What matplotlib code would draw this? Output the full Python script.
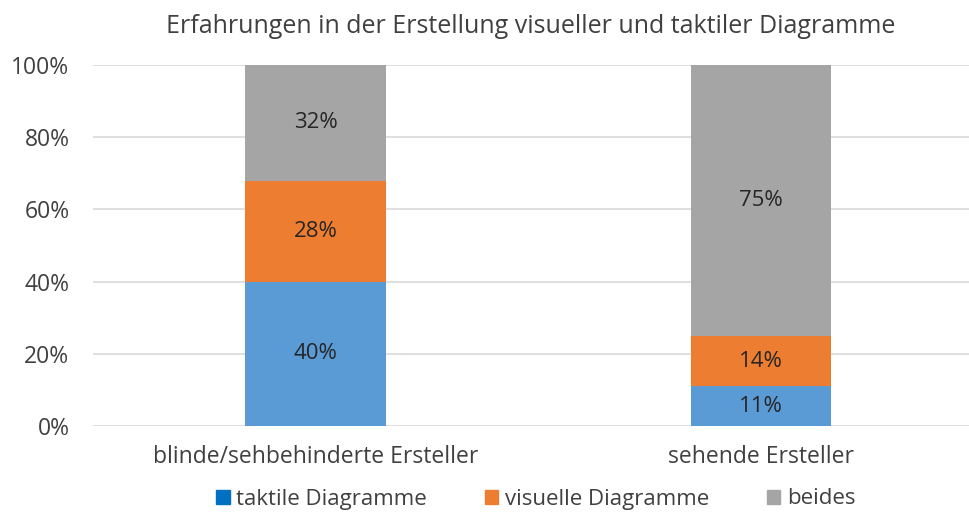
import matplotlib
matplotlib.use("Agg")
import matplotlib.pyplot as plt
from matplotlib.patches import Patch

categories = ["blinde/sehbehinderte Ersteller", "sehende Ersteller"]
series_names = ["taktile Diagramme", "visuelle Diagramme", "beides"]
taktile = [40, 11]
visuelle = [28, 14]
beides = [32, 75]
yticks = [0, 20, 40, 60, 80, 100]

bar_colors = ["#5B9BD5", "#ED7D31", "#A5A5A5"]
legend_colors = ["#0070C0", "#ED7D31", "#A5A5A5"]
text_color = "#404040"
label_color = "#262626"

plt.rcParams['font.family'] = ['Open Sans', 'DejaVu Sans']

fig = plt.figure(figsize=(9.69, 5.13), dpi=100)
ax = fig.add_axes([93/969, (513-426)/513, 1 - 93/969, (426-65)/513])

x = list(range(len(categories)))
width = 0.315
bottom = [0, 0]
for vals, col in zip([taktile, visuelle, beides], bar_colors):
    ax.bar(x, vals, width, bottom=bottom, color=col, zorder=2)
    for xi, b, v in zip(x, bottom, vals):
        ax.text(xi, b + v/2, f"{v}%", ha="center", va="center",
                fontsize=16, color=label_color)
    bottom = [b + v for b, v in zip(bottom, vals)]

ax.set_ylim(0, 100)
ax.set_xlim(-0.5, 1.468)
ax.set_yticks(yticks)
ax.set_yticklabels([f"{t}%" for t in yticks], fontsize=16.5, color=text_color)
ax.set_xticks(x)
ax.set_xticklabels(categories, fontsize=16.5, color=text_color)
ax.tick_params(axis="y", length=0, pad=17)
ax.tick_params(axis="x", length=0, pad=14)
ax.yaxis.grid(True, color="#D9D9D9", linewidth=1.2, zorder=0)
for s in ax.spines.values():
    s.set_visible(False)

ax.set_title("Erfahrungen in der Erstellung visueller und taktiler Diagramme",
             fontsize=18, color=text_color, pad=23)

handles = [Patch(color=c, label=n) for c, n in zip(legend_colors, series_names)]
fig.legend(handles=handles, loc="center", bbox_to_anchor=(536/969, 1 - 499/513),
           ncol=3, frameon=False, fontsize=16, handlelength=0.6, handleheight=0.6,
           handletextpad=0.3, columnspacing=2.6, labelcolor=text_color,
           borderpad=0.1)

fig.savefig("out.png", dpi=100)
